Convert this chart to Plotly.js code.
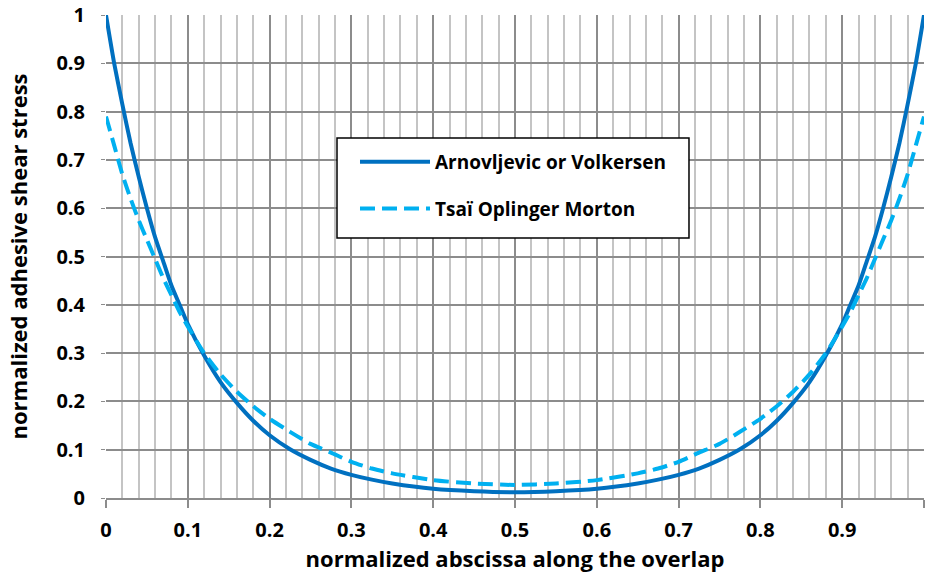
<!DOCTYPE html>
<html>
<head>
<meta charset="utf-8">
<script src="https://cdn.plot.ly/plotly-3.0.1.min.js"></script>
<style>html,body{margin:0;padding:0;background:#fff;}#chart{width:928px;height:576px;}</style>
</head>
<body>
<div id="chart"></div>
<script>
// normalized abscissa along the overlap
const xValues = [0, 0.01, 0.02, 0.03, 0.04, 0.05, 0.06, 0.07, 0.08, 0.09, 0.10, 0.12, 0.14, 0.16, 0.18, 0.20, 0.225, 0.25, 0.275, 0.30, 0.325, 0.35, 0.40, 0.45, 0.50,
  0.55, 0.60, 0.65, 0.675, 0.70, 0.725, 0.75, 0.775, 0.80, 0.82, 0.84, 0.86, 0.88, 0.90, 0.91, 0.92, 0.93, 0.94, 0.95, 0.96, 0.97, 0.98, 0.99, 1.0];
// Arnovljevic or Volkersen
const volkersen = [1.0, 0.90, 0.815, 0.735, 0.665, 0.60, 0.54, 0.49, 0.44, 0.40, 0.36, 0.295, 0.24, 0.197, 0.16, 0.13, 0.101, 0.079, 0.061, 0.048, 0.038, 0.030, 0.019, 0.014, 0.012,
  0.014, 0.019, 0.030, 0.038, 0.048, 0.061, 0.079, 0.101, 0.13, 0.16, 0.197, 0.24, 0.295, 0.36, 0.40, 0.44, 0.49, 0.54, 0.60, 0.665, 0.735, 0.815, 0.90, 1.0];
// Tsaï Oplinger Morton
const tsai = [0.79, 0.73, 0.67, 0.62, 0.575, 0.535, 0.495, 0.455, 0.42, 0.385, 0.355, 0.30, 0.256, 0.22, 0.19, 0.164, 0.137, 0.112, 0.094, 0.075, 0.061, 0.051, 0.037, 0.030, 0.027,
  0.030, 0.037, 0.051, 0.061, 0.075, 0.094, 0.112, 0.137, 0.164, 0.19, 0.22, 0.256, 0.30, 0.355, 0.385, 0.42, 0.455, 0.495, 0.535, 0.575, 0.62, 0.67, 0.73, 0.79];
const seriesNames = ["Arnovljevic or Volkersen", "Tsaï Oplinger Morton"];
const xTickVals = [0, 0.1, 0.2, 0.3, 0.4, 0.5, 0.6, 0.7, 0.8, 0.9, 1];
const xTickText = ["0", "0.1", "0.2", "0.3", "0.4", "0.5", "0.6", "0.7", "0.8", "0.9", "1"];
const yTickVals = [0, 0.1, 0.2, 0.3, 0.4, 0.5, 0.6, 0.7, 0.8, 0.9, 1];
const yTickText = ["0", "0.1", "0.2", "0.3", "0.4", "0.5", "0.6", "0.7", "0.8", "0.9", "1"];

const fontFam = "'Open Sans', 'Noto Sans', sans-serif";
const tickFnt = {family: fontFam, size: 20, color: "#000", weight: "bold"};
const titleFnt = {family: fontFam, size: 22, color: "#000", weight: "bold"};
const legFnt = {family: fontFam, size: 19, color: "#000", weight: "bold"};
const traces = [
  {x: xValues, y: volkersen, name: seriesNames[0], type: "scatter", mode: "lines", legendgroup: "a",
   line: {color: "#0070C0", width: 4, shape: "spline", smoothing: 0.6}},
  {x: xValues, y: tsai, name: seriesNames[1], type: "scatter", mode: "lines", legendgroup: "b",
   line: {color: "#00B0F0", width: 4, dash: "15px,7px", shape: "spline", smoothing: 0.6}}
];
const layout = {
  width: 928, height: 576,
  margin: {l: 106, r: 4, t: 15, b: 78},
  paper_bgcolor: "#fff", plot_bgcolor: "#fff",
  font: tickFnt,
  showlegend: true,
  legend: {x: 0.3044, y: 0.735, xanchor: "left", yanchor: "top", bgcolor: "rgba(0,0,0,0)",
    borderwidth: 0, font: legFnt, itemwidth: 70, tracegroupgap: 19},
  // legend frame
  shapes: [{type: "rect", xref: "paper", yref: "paper", x0: 0.2824, x1: 0.7127, y0: 0.5383, y1: 0.7453,
    fillcolor: "#fff", line: {color: "#000", width: 1.5}, layer: "above"}],
  xaxis: {range: [0, 1], tickvals: xTickVals, ticktext: xTickText, showgrid: true, gridcolor: "#8c8c8c", gridwidth: 2,
    minor: {dtick: 0.02, showgrid: true, gridcolor: "#c4c4c4", gridwidth: 2, ticks: ""},
    ticks: "outside", ticklen: 8, tickwidth: 2, tickcolor: "#8c8c8c", zeroline: false,
    showline: true, linecolor: "#8c8c8c", linewidth: 2, ticklabelstandoff: 5,
    tickfont: tickFnt,
    title: {text: "normalized abscissa along the overlap", font: titleFnt, standoff: 9}},
  yaxis: {range: [0, 1], tickvals: yTickVals, ticktext: yTickText, showgrid: true, gridcolor: "#8c8c8c", gridwidth: 2,
    ticks: "outside", ticklen: 4, tickwidth: 1, tickcolor: "#8c8c8c", zeroline: false, showline: false,
    ticklabelstandoff: 12,
    tickfont: tickFnt,
    title: {text: "normalized adhesive shear stress", font: titleFnt, standoff: 22}}
};
Plotly.newPlot("chart", traces, layout, {displayModeBar: false, staticPlot: true});
</script>
</body>
</html>
